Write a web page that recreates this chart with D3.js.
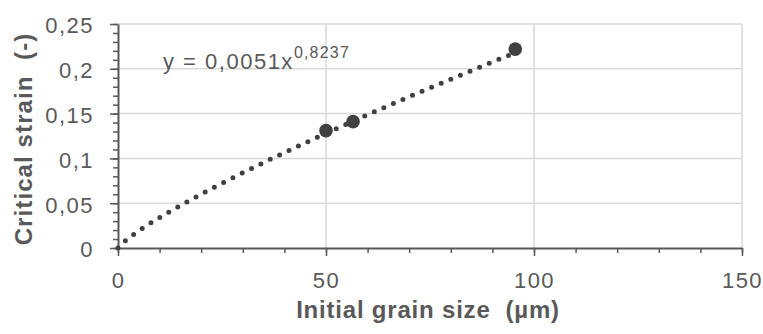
<!DOCTYPE html>
<html>
<head>
<meta charset="utf-8">
<script src="https://cdn.jsdelivr.net/npm/d3@7"></script>
<style>
  body { margin: 0; background: #fff; }
  text { font-family: "Liberation Sans", Arial, sans-serif; fill: #595959; }
</style>
</head>
<body>
<script>
// measured data (grain size in µm, critical strain)
const grainSize = [50, 56.5, 95.5]
const criticalStrain = [0.131, 0.141, 0.222]

// power trendline shown on the chart: y = a * x^b
const trendA = 0.0051
const trendB = 0.8237

const xTicks = [0, 50, 100, 150]
const yTicks = [0, 0.05, 0.1, 0.15, 0.2, 0.25]

const width = 763
const height = 334
const margin = { top: 24, right: 21, bottom: 86, left: 118 }
const innerW = width - margin.left - margin.right
const innerH = height - margin.top - margin.bottom

const fmt = d => String(d).replace('.', ',')

const svg = d3.select('body').append('svg')
  .attr('width', width)
  .attr('height', height)

const g = svg.append('g')
  .attr('transform', `translate(${margin.left}, ${margin.top})`)

const xScale = d3.scaleLinear()
  .domain([0, 150])
  .range([0, innerW])

const yScale = d3.scaleLinear()
  .domain([0, 0.25])
  .range([innerH, 0])

// gridlines
g.append('g')
  .selectAll('line')
  .data(yTicks.filter(d => d > 0))
  .join('line')
  .attr('x1', 0)
  .attr('x2', innerW)
  .attr('y1', d => yScale(d))
  .attr('y2', d => yScale(d))
  .attr('stroke', '#d9d9d9')
  .attr('stroke-width', 1.5)

g.append('g')
  .selectAll('line')
  .data(xTicks.filter(d => d > 0))
  .join('line')
  .attr('x1', d => xScale(d))
  .attr('x2', d => xScale(d))
  .attr('y1', 0)
  .attr('y2', innerH)
  .attr('stroke', '#d9d9d9')
  .attr('stroke-width', 1.5)

// minor ticks
g.append('g')
  .call(d3.axisBottom(xScale).tickValues(d3.range(0, 151, 10)).tickSize(5).tickFormat(''))
  .attr('transform', `translate(0, ${innerH})`)
  .call(a => a.select('.domain').remove())
  .call(a => a.selectAll('line').attr('stroke', '#595959').attr('stroke-width', 1.5))

g.append('g')
  .call(d3.axisLeft(yScale).tickValues(d3.range(0, 26).map(d => d / 100)).tickSize(5).tickFormat(''))
  .call(a => a.select('.domain').remove())
  .call(a => a.selectAll('line').attr('stroke', '#595959').attr('stroke-width', 1.5))

// major axes
const xAxis = g.append('g')
  .attr('transform', `translate(0, ${innerH})`)
  .call(d3.axisBottom(xScale).tickValues(xTicks).tickSize(8).tickSizeOuter(0).tickPadding(16).tickFormat(fmt))

const yAxis = g.append('g')
  .call(d3.axisLeft(yScale).tickValues(yTicks).tickSize(8).tickSizeOuter(0).tickPadding(16).tickFormat(fmt))

for (const ax of [xAxis, yAxis]) {
  ax.select('.domain').attr('stroke', '#595959').attr('stroke-width', 2)
  ax.selectAll('line').attr('stroke', '#595959').attr('stroke-width', 1.5)
  ax.selectAll('text')
    .attr('fill', '#595959')
    .style('font-family', '"Liberation Sans", Arial, sans-serif')
    .style('font-size', '22px')
    .style('letter-spacing', '1.5px')
}
yAxis.selectAll('text').attr('dy', '0.4em')

// trendline (dotted)
const trendX = d3.range(0, d3.max(grainSize) + 0.01, 0.5)
const trendLine = d3.line()
  .x(d => xScale(d))
  .y(d => yScale(trendA * Math.pow(d, trendB)))

g.append('path')
  .datum(trendX)
  .attr('d', trendLine)
  .attr('fill', 'none')
  .attr('stroke', '#404040')
  .attr('stroke-width', 5)
  .attr('stroke-linecap', 'round')
  .attr('stroke-dasharray', '0 10.4')

// markers
g.append('g')
  .selectAll('circle')
  .data(grainSize)
  .join('circle')
  .attr('cx', d => xScale(d))
  .attr('cy', (d, i) => yScale(criticalStrain[i]))
  .attr('r', 6.8)
  .attr('fill', '#404040')

// equation label
const eq = g.append('text')
  .attr('x', 45)
  .attr('y', 45)
  .style('font-size', '22px')
  .style('letter-spacing', '1.5px')
eq.append('tspan').text('y = 0,0051x')
eq.append('tspan')
  .attr('dy', -11)
  .style('font-size', '16px')
  .style('letter-spacing', '1.2px')
  .text('0,8237')

// axis titles
svg.append('text')
  .attr('x', margin.left + innerW / 2 - 2)
  .attr('y', 318)
  .attr('text-anchor', 'middle')
  .style('font-size', '24px')
  .style('font-weight', 'bold')
  .style('letter-spacing', '0.8px')
  .style('white-space', 'pre')
  .text('Initial grain size  (µm)')

svg.append('text')
  .attr('transform', `translate(32, ${margin.top + innerH / 2 + 3}) rotate(-90)`)
  .attr('text-anchor', 'middle')
  .style('font-size', '24px')
  .style('font-weight', 'bold')
  .style('letter-spacing', '1.1px')
  .style('white-space', 'pre')
  .text('Critical strain  (-)')
</script>
</body>
</html>
